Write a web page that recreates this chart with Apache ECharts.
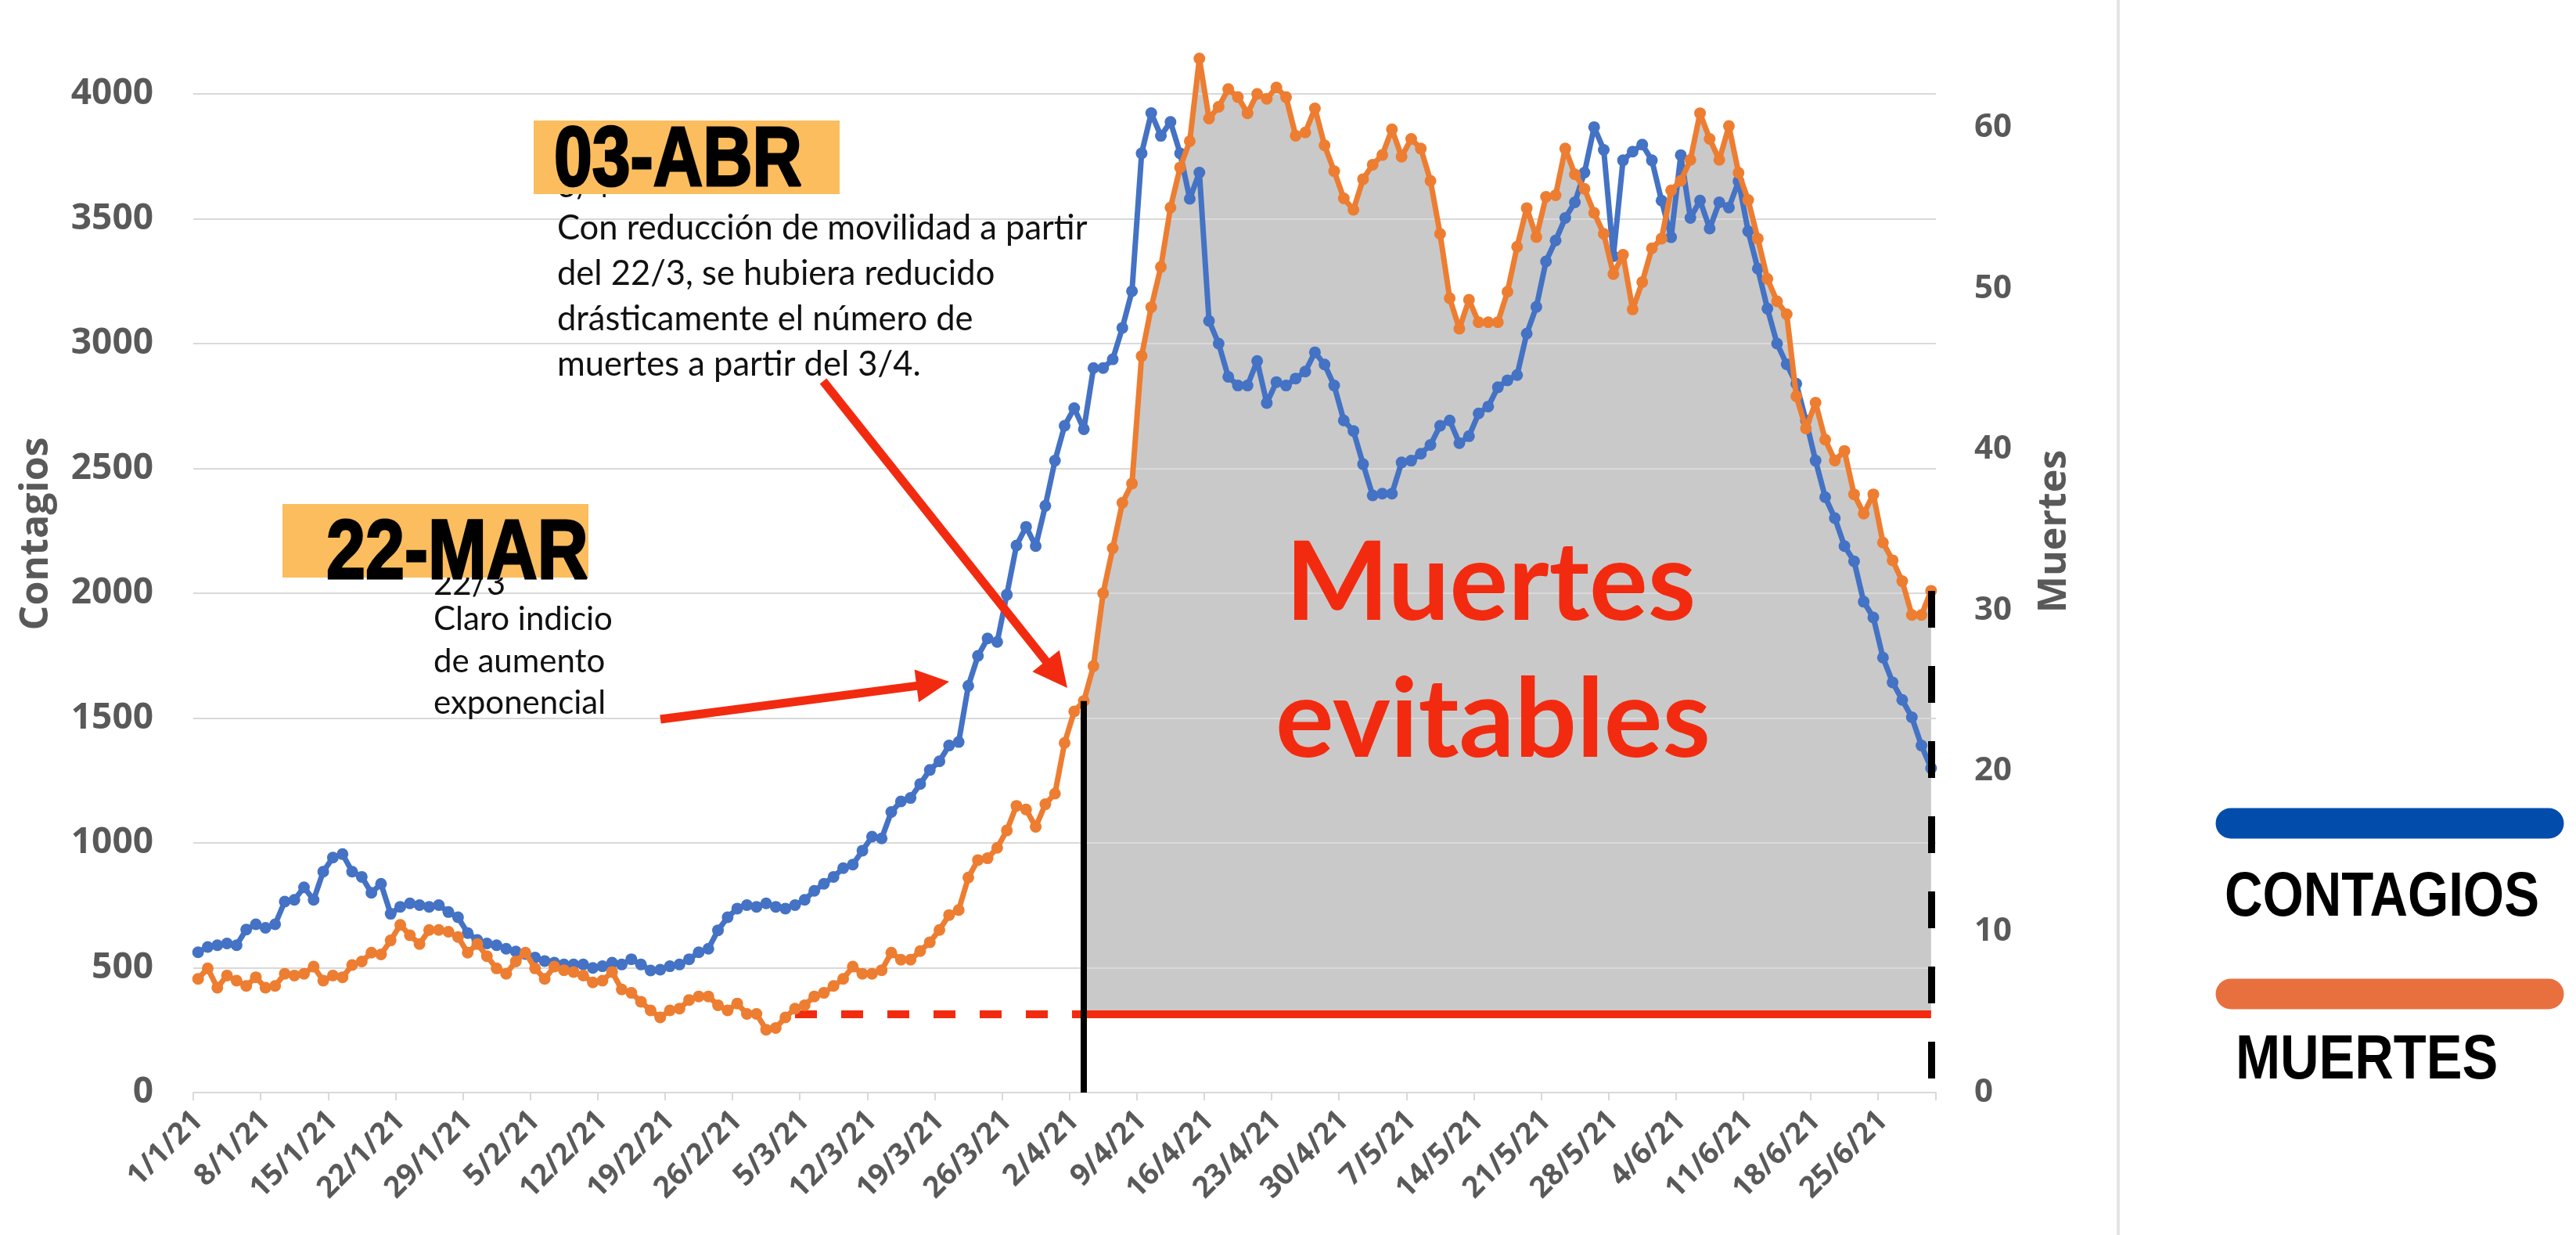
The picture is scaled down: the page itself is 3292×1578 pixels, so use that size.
<!DOCTYPE html>
<html>
<head>
<meta charset="utf-8">
<script src="https://cdn.jsdelivr.net/npm/echarts@6.0.0/dist/echarts.min.js"></script>
<style>
html,body{margin:0;padding:0;background:#fff;}
#chart{width:3292px;height:1578px;}
</style>
</head>
<body>
<div id="chart"></div>
<script>
// ---- Categories: daily dates 1/1/21 .. 30/6/21 ----
const fechas = [];
(function(){
  const start = Date.UTC(2021, 0, 1);
  for (let i = 0; i < 181; i++) {
    const d = new Date(start + i * 86400000);
    fechas.push(d.getUTCDate() + '/' + (d.getUTCMonth() + 1) + '/21');
  }
})();

// ---- Series values ----
const contagios = [
 562, 583, 590, 597, 590, 653, 674, 660, 674, 765,
 772, 822, 772, 885, 941, 955, 885, 864, 800, 836,
 716, 744, 758, 751, 744, 751, 723, 702, 639, 611,
 597, 590, 576, 565, 555, 541, 527, 520, 513, 513,
 513, 499, 506, 520, 513, 534, 513, 489, 492, 506,
 513, 534, 562, 576, 650, 702, 737, 751, 744, 758,
 744, 737, 751, 772, 808, 836, 864, 899, 913, 969,
 1025, 1018, 1124, 1166, 1180, 1236, 1292, 1327, 1390, 1404,
 1629, 1749, 1819, 1805, 1994, 2191, 2266, 2189, 2350, 2531,
 2671, 2741, 2657, 2902, 2902, 2937, 3063, 3210, 3762, 3923,
 3832, 3888, 3762, 3580, 3685, 3091, 3000, 2867, 2832, 2832,
 2930, 2762, 2846, 2832, 2860, 2888, 2965, 2916, 2832, 2692,
 2650, 2517, 2392, 2399, 2399, 2524, 2531, 2559, 2594, 2671,
 2692, 2601, 2629, 2720, 2748, 2825, 2853, 2874, 3040, 3147,
 3329, 3413, 3503, 3566, 3685, 3867, 3776, 3350, 3734, 3769,
 3797, 3734, 3573, 3426, 3755, 3503, 3573, 3461, 3566, 3545,
 3650, 3450, 3300, 3140, 3000, 2917, 2839, 2692, 2531, 2385,
 2301, 2189, 2128, 1966, 1903, 1742, 1643, 1573, 1503, 1390,
 1299
];

const muertes = [
 7.07, 7.72, 6.52, 7.28, 6.96, 6.63, 7.17, 6.52, 6.63, 7.39,
 7.28, 7.39, 7.83, 6.96, 7.28, 7.17, 7.93, 8.15, 8.70, 8.59,
 9.46, 10.43, 9.78, 9.24, 10.11, 10.11, 10.0, 9.67, 8.70, 9.24,
 8.48, 7.72, 7.39, 8.15, 8.70, 7.72, 7.07, 7.83, 7.61, 7.5,
 7.28, 6.85, 6.96, 7.5, 6.41, 6.20, 5.65, 5.11, 4.67, 5.11,
 5.22, 5.76, 5.98, 5.98, 5.43, 5.11, 5.54, 4.89, 4.89, 3.91,
 4.02, 4.67, 5.22, 5.43, 5.98, 6.2, 6.63, 7.07, 7.83, 7.39,
 7.39, 7.61, 8.70, 8.26, 8.26, 8.80, 9.35, 10.11, 11.04, 11.35,
 13.37, 14.46, 14.57, 15.22, 16.3, 17.83, 17.6, 16.52, 17.93, 18.59,
 21.74, 23.7, 24.35, 26.52, 31.05, 33.85, 36.67, 37.87, 45.8, 48.84,
 51.34, 55.03, 57.53, 59.16, 64.3, 60.57, 61.3, 62.4, 61.9, 60.9,
 62.1, 61.8, 62.5, 61.9, 59.5, 59.7, 61.2, 58.9, 57.3, 55.6,
 54.9, 56.8, 57.7, 58.3, 59.9, 58.2, 59.3, 58.7, 56.7, 53.4,
 49.4, 47.5, 49.3, 47.9, 47.9, 47.9, 49.8, 52.6, 55.0, 53.2,
 55.7, 55.8, 58.7, 57.1, 56.2, 54.7, 53.4, 50.9, 52.1, 48.7,
 50.4, 52.5, 53.1, 56.1, 56.7, 58.0, 60.9, 59.3, 58.0, 60.1,
 57.2, 55.5, 53.1, 50.6, 49.2, 48.4, 43.3, 41.3, 42.9, 40.6,
 39.3, 39.9, 37.2, 36.0, 37.2, 34.2, 33.1, 31.8, 29.7, 29.7,
 31.2
];

// ---- Reference levels / dates ----
const umbralMuertes = 4.9;          // red baseline (muertes)
const inicioDiscontinuo = '4/3/21';  // start of dashed red line
const fechaCorte = '3/4/21';         // 03-ABR
const fechaFin = '30/6/21';

// ---- Axis ranges & tick labels ----
const maxContagios = 4000;
const maxMuertes = 62.1;   // right axis top aligned with 4000 on the left
const ticksContagios = [0, 500, 1000, 1500, 2000, 2500, 3000, 3500, 4000];
const ticksMuertes = [0, 10, 20, 30, 40, 50, 60];
const tituloIzq = 'Contagios';
const tituloDer = 'Muertes';

const idxCorte = fechas.indexOf(fechaCorte);
const idxFin = fechas.indexOf(fechaFin);
const evitables = muertes.map((v, i) => (i >= idxCorte && i <= idxFin) ? v : null);

const AXIS_GRAY = '#595959';
const GRID_GRAY = '#d9d9d9';
const RED = '#F22B10';
const BLUE = '#4472C4';
const ORANGE = '#ED7D31';
const AXIS_FONT = '"Open Sans", Lato, sans-serif';
const NOTE_FONT = 'Lato, "Open Sans", sans-serif';

const chart = echarts.init(document.getElementById('chart'), null, {renderer: 'canvas'});

function txt(text, x, y, font, fill, align, z, extra, scaleX, rotation) {
  return {
    type: 'text', z: z || 20, silent: true,
    x: x, y: y, scaleX: scaleX || 1, scaleY: 1, rotation: rotation || 0,
    style: Object.assign({
      text: text, x: 0, y: 0, font: font, fill: fill,
      align: align || 'left', verticalAlign: 'middle',
      textAlign: align || 'left', textVerticalAlign: 'middle'
    }, extra || {})
  };
}
function arrow(x1, y1, x2, y2, headLen, headHalf, width, color) {
  const dx = x2 - x1, dy = y2 - y1, L = Math.sqrt(dx*dx + dy*dy);
  const ux = dx / L, uy = dy / L, px = -uy, py = ux;
  const bx = x2 - ux * headLen, by = y2 - uy * headLen;
  return [
    {type: 'line', z: 20, silent: true, shape: {x1: x1, y1: y1, x2: bx + ux*2, y2: by + uy*2},
     style: {stroke: color, lineWidth: width}},
    {type: 'polygon', z: 20, silent: true,
     shape: {points: [[x2, y2], [bx + px*headHalf, by + py*headHalf], [bx - px*headHalf, by - py*headHalf]]},
     style: {fill: color}}
  ];
}

const HEAVY = 'bold 107px "Liberation Sans", Arial, sans-serif';
const LEG = 'bold 80px "Liberation Sans", Arial, sans-serif';
const TITLE = 'bold 50px ' + AXIS_FONT;

const graphics = [].concat(
  [
    // separator at right
    {type: 'line', z: 1, silent: true, shape: {x1: 2707, y1: 0, x2: 2707, y2: 1578},
     style: {stroke: '#e4e4e4', lineWidth: 4}},
    // axis titles (the axis extends above the visible area in the original, so they sit higher)
    txt(tituloIzq, 47, 682, TITLE, AXIS_GRAY, 'center', 20, null, 1, Math.PI / 2),
    txt(tituloDer, 2626, 679, TITLE, AXIS_GRAY, 'center', 20, null, 1, Math.PI / 2),
    // annotation: 03-ABR
    txt('Con reducción de movilidad a partir\ndel 22/3, se hubiera reducido\ndrásticamente el número de\nmuertes a partir del 3/4.',
        712, 263, '43.5px ' + NOTE_FONT, '#111', 'left', 20,
        {verticalAlign: 'top', textVerticalAlign: 'top', lineHeight: 58}),
    txt('3/4', 712, 238, '42px ' + NOTE_FONT, '#111', 'left', 20),
    {type: 'rect', z: 21, silent: true, shape: {x: 682, y: 154, width: 391, height: 94}, style: {fill: '#FBBD5E'}},
    txt('03-ABR', 708, 207, HEAVY, '#000', 'left', 22, {stroke: '#000', lineWidth: 3}, 0.82),
    // annotation: 22-MAR
    txt('Claro indicio\nde aumento\nexponencial', 554, 765, '42px ' + NOTE_FONT, '#111', 'left', 20,
        {verticalAlign: 'top', textVerticalAlign: 'top', lineHeight: 53.5}),
    txt('22/3', 554, 746, '42px ' + NOTE_FONT, '#111', 'left', 20),
    {type: 'rect', z: 21, silent: true, shape: {x: 361, y: 644, width: 391, height: 94}, style: {fill: '#FBBD5E'}},
    txt('22-MAR', 417, 709, HEAVY, '#000', 'left', 22, {stroke: '#000', lineWidth: 3}, 0.84),
    // Big label
    txt('Muertes', 1905, 747, 'bold 140px ' + NOTE_FONT, RED, 'center', 20),
    txt('evitables', 1908, 922, 'bold 140px ' + NOTE_FONT, RED, 'center', 20),
    // legend
    {type: 'line', z: 20, silent: true, shape: {x1: 2851, y1: 1052, x2: 3257, y2: 1052},
     style: {stroke: '#024DAC', lineWidth: 39, lineCap: 'round'}},
    txt('CONTAGIOS', 2843, 1148, LEG, '#000', 'left', 20, null, 0.84),
    {type: 'line', z: 20, silent: true, shape: {x1: 2851, y1: 1270, x2: 3257, y2: 1270},
     style: {stroke: '#E8703F', lineWidth: 39, lineCap: 'round'}},
    txt('MUERTES', 2857, 1356, LEG, '#000', 'left', 20, null, 0.857)
  ],
  arrow(844, 919, 1213, 871, 42, 21, 11, RED),
  arrow(1052, 487, 1364, 879, 44, 22, 11, RED)
);

const option = {
  backgroundColor: '#ffffff',
  animation: false,
  grid: {left: 247, right: 818, top: 120, bottom: 182, containLabel: false},
  xAxis: {
    type: 'category',
    data: fechas,
    boundaryGap: true,
    axisLine: {show: true, lineStyle: {color: GRID_GRAY, width: 2}},
    axisTick: {show: true, interval: 6, length: 10, lineStyle: {color: GRID_GRAY, width: 2}},
    axisLabel: {interval: 6, rotate: 45, margin: 30, color: AXIS_GRAY, fontWeight: 'bold',
                fontSize: 38, fontFamily: AXIS_FONT},
    splitLine: {show: false}
  },
  yAxis: [
    {
      type: 'value', position: 'left', min: 0, max: maxContagios, interval: 500, z: 2,
      axisLine: {show: false}, axisTick: {show: false},
      axisLabel: {margin: 51, fontSize: 46, fontWeight: 'bold', color: AXIS_GRAY, fontFamily: AXIS_FONT,
                  formatter: v => ticksContagios.indexOf(v) >= 0 ? String(v) : ''},
      splitLine: {show: true, lineStyle: {color: GRID_GRAY, width: 2}}
    },
    {
      type: 'value', position: 'right', min: 0, max: maxMuertes, interval: 10,
      axisLine: {show: false}, axisTick: {show: false},
      axisLabel: {margin: 49, fontSize: 42, fontWeight: 'bold', color: AXIS_GRAY, fontFamily: AXIS_FONT,
                  formatter: v => ticksMuertes.indexOf(v) >= 0 ? String(v) : ''},
      splitLine: {show: false}
    }
  ],
  series: [
    {
      name: 'Muertes evitables', type: 'line', yAxisIndex: 1, data: evitables,
      symbol: 'none', silent: true, z: 1, clip: false,
      lineStyle: {width: 0, opacity: 0},
      areaStyle: {color: '#C9C9C9', opacity: 1, origin: umbralMuertes},
      markLine: {
        silent: true, symbol: ['none', 'none'], z: 3, label: {show: false},
        data: [
          [{coord: [inicioDiscontinuo, umbralMuertes], lineStyle: {color: RED, width: 10, type: [28, 31]}},
           {coord: [fechaCorte, umbralMuertes]}],
          [{coord: [fechaCorte, umbralMuertes], lineStyle: {color: RED, width: 10, type: 'solid'}},
           {coord: [fechaFin, umbralMuertes]}]
        ]
      }
    },
    {
      name: 'Contagios', type: 'line', yAxisIndex: 0, data: contagios, z: 4, clip: false,
      symbol: 'circle', symbolSize: 15, showAllSymbol: true,
      lineStyle: {color: BLUE, width: 7}, itemStyle: {color: BLUE}
    },
    {
      name: 'Muertes', type: 'line', yAxisIndex: 1, data: muertes, z: 5, clip: false,
      symbol: 'circle', symbolSize: 15, showAllSymbol: true,
      lineStyle: {color: ORANGE, width: 7}, itemStyle: {color: ORANGE},
      markLine: {
        silent: true, symbol: ['none', 'none'], z: 6, label: {show: false},
        data: [
          [{coord: [fechaCorte, muertes[idxCorte]], lineStyle: {color: '#000', width: 8, type: 'solid'}},
           {coord: [fechaCorte, 0]}],
          [{coord: [fechaFin, muertes[idxFin]], lineStyle: {color: '#000', width: 9, type: [47, 49]}},
           {coord: [fechaFin, 0]}]
        ]
      }
    }
  ],
  graphic: {elements: graphics}
};
chart.setOption(option);
</script>
</body>
</html>
